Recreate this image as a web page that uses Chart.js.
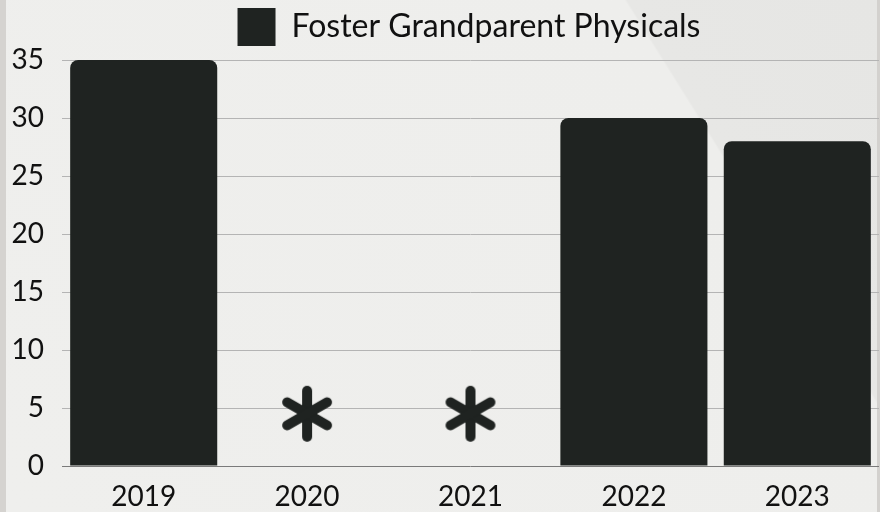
<!DOCTYPE html>
<html>
<head>
<meta charset="utf-8">
<script src="https://cdn.jsdelivr.net/npm/chart.js@4"></script>
<style>
  html, body {
    margin: 0;
    padding: 0;
    width: 880px;
    height: 512px;
    overflow: hidden;
  }
  body {
    background: linear-gradient(58deg, #efefed 0%, #eeeeec 78.7%, #e7e7e5 78.9%, #e6e6e4 100%);
    position: relative;
  }
  .edge-left {
    position: absolute; left: 0; top: 0; width: 6px; height: 512px; background: #d5d3d0;
  }
  .edge-right {
    position: absolute; right: 0; top: 0; width: 3px; height: 512px; background: #d3d1ce;
  }
  #wrap {
    position: absolute; left: 0; top: 0; width: 880px; height: 512px;
  }
</style>
</head>
<body>
<div class="edge-left"></div>
<div class="edge-right"></div>
<div id="wrap"><canvas id="physicalsChart"></canvas></div>
<script>
  const years = ['2019', '2020', '2021', '2022', '2023'];
  const physicals = [35, null, null, 30, 28];
  // years with no figure reported get an asterisk instead of a bar
  const notReported = [false, true, true, false, false];
  const asteriskLevel = 4.5;
  const yTicks = [0, 5, 10, 15, 20, 25, 30, 35];

  const barColor = '#1f2321';
  const fontFamily = 'Lato, "Noto Sans", sans-serif';

  // asterisk drawn once onto a small canvas and used as the point style
  function makeAsterisk() {
    const c = document.createElement('canvas');
    c.width = 64;
    c.height = 64;
    const g = c.getContext('2d');
    g.strokeStyle = barColor;
    g.lineWidth = 10;
    g.lineCap = 'round';
    g.translate(32, 32);
    const len = 23;
    [90, 30, -30].forEach(deg => {
      const a = deg * Math.PI / 180;
      g.beginPath();
      g.moveTo(-Math.cos(a) * len, -Math.sin(a) * len);
      g.lineTo(Math.cos(a) * len, Math.sin(a) * len);
      g.stroke();
    });
    return c;
  }

  const asteriskData = notReported.map(flag => flag ? asteriskLevel : null);

  // nudge the legend a bit right and up, like the original
  const legendShift = {
    id: 'legendShift',
    afterLayout(chart) {
      if (chart.legend) {
        chart.legend.left += 29;
        chart.legend.right += 29;
        chart.legend.top -= 4;
        chart.legend.bottom -= 4;
      }
    }
  };

  new Chart(document.getElementById('physicalsChart'), {
    type: 'bar',
    data: {
      labels: years,
      datasets: [
        {
          label: 'Foster Grandparent Physicals',
          data: physicals,
          backgroundColor: barColor,
          borderWidth: 0,
          borderRadius: { topLeft: 8, topRight: 8, bottomLeft: 0, bottomRight: 0 },
          borderSkipped: 'bottom',
          barPercentage: 0.9,
          categoryPercentage: 1
        },
        {
          type: 'line',
          label: 'not reported',
          data: asteriskData,
          showLine: false,
          borderWidth: 0,
          pointStyle: makeAsterisk(), // image is drawn at its own size
          pointRadius: 1,
          pointHoverRadius: 1,
          pointBorderWidth: 0,
          pointHoverBorderWidth: 0,
          clip: false
        }
      ]
    },
    plugins: [legendShift],
    options: {
      responsive: true,
      maintainAspectRatio: false,
      animation: false,
      layout: {
        padding: { top: 0, left: 0, right: 0, bottom: 0 }
      },
      plugins: {
        legend: {
          display: true,
          position: 'top',
          labels: {
            color: '#111111',
            boxWidth: 38,
            boxHeight: 38,
            padding: 8,
            font: { family: fontFamily, size: 32 },
            filter: (item) => item.datasetIndex === 0
          }
        },
        tooltip: { enabled: false }
      },
      scales: {
        x: {
          offset: true,
          grid: { display: false, drawTicks: false },
          border: { display: false },
          afterFit: (scale) => {
            scale.height = 46;
            scale.paddingLeft = 0;
            scale.paddingRight = 0;
          },
          ticks: {
            color: '#111111',
            padding: 14,
            font: { family: fontFamily, size: 28 }
          }
        },
        y: {
          min: 0,
          max: 35,
          afterBuildTicks: (scale) => {
            scale.ticks = yTicks.map(v => ({ value: v }));
          },
          afterFit: (scale) => {
            scale.width = 62;
            scale.paddingTop = 60; // plot top sits at y=60
            scale.paddingBottom = 0;
          },
          border: { display: false },
          grid: {
            color: (ctx) => ctx.tick && ctx.tick.value === 0 ? '#7a7a7a' : '#b4b4b4',
            lineWidth: 1,
            drawTicks: false
          },
          ticks: {
            color: '#111111',
            padding: 18,
            font: { family: fontFamily, size: 28 }
          }
        }
      }
    }
  });
</script>
</body>
</html>
